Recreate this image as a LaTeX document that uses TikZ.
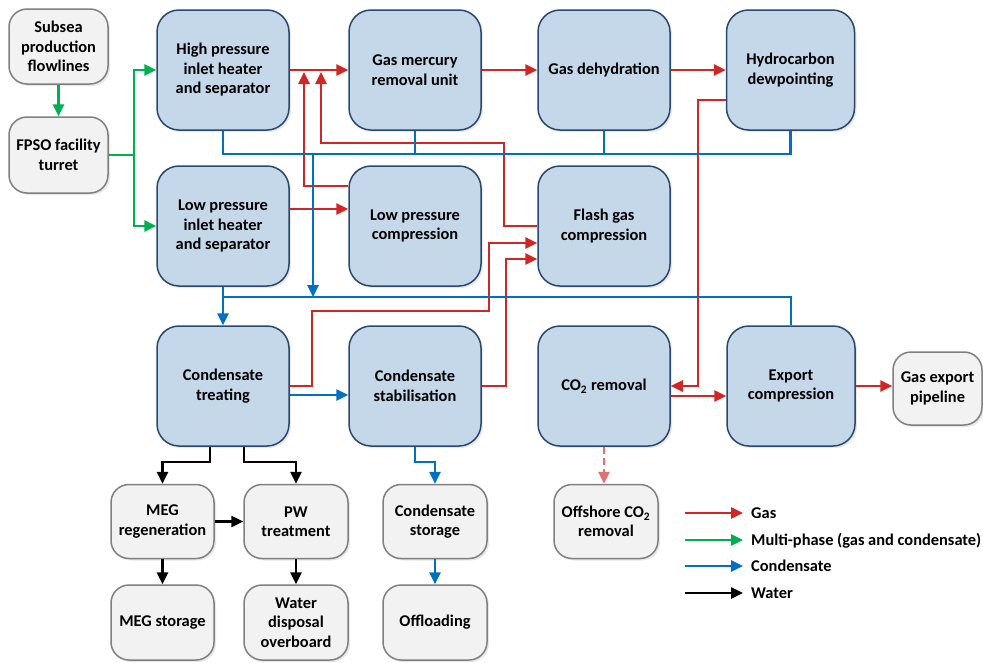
\documentclass[tikz,border=0pt]{standalone}
\usepackage{fontspec}
\setmainfont{Carlito}
\usetikzlibrary{arrows.meta}
\usetikzlibrary{shadows}

\definecolor{gasred}{RGB}{208,38,38}
\definecolor{mpgreen}{RGB}{0,176,80}
\definecolor{condblue}{RGB}{0,112,192}
\definecolor{unitfill}{RGB}{197,216,233}
\definecolor{unitline}{RGB}{40,72,110}
\definecolor{endfill}{RGB}{242,242,242}
\definecolor{endline}{RGB}{128,128,128}

\begin{document}
\begin{tikzpicture}[x=1pt,y=-1pt,
  boxfont/.style={font=\bfseries\fontsize{16.4}{19.5}\selectfont},
  unit/.style={boxfont,draw=unitline,line width=1.5pt,fill=unitfill,rounded corners=22pt,
    minimum width=132pt,minimum height=120pt,inner sep=0pt,align=center,
    drop shadow={opacity=0.18,shadow xshift=2pt,shadow yshift=-2pt}},
  endpt/.style={boxfont,draw=endline,line width=1.5pt,fill=endfill,rounded corners=18pt,
    minimum width=103pt,minimum height=74pt,inner sep=0pt,align=center,
    drop shadow={opacity=0.18,shadow xshift=2pt,shadow yshift=-2pt}},
  legtext/.style={boxfont,anchor=west,inner sep=0pt,text height=10pt,text depth=0pt},
  tip/.style={-{Triangle[length=12pt,width=11pt]}},
  gas/.style={draw=gasred,line width=2.5pt},
  multi/.style={draw=mpgreen,line width=2.5pt},
  cond/.style={draw=condblue,line width=2.5pt},
  water/.style={draw=black,line width=2.5pt},
  gasflow/.style={gas,tip},
  multiflow/.style={multi,tip},
  condflow/.style={cond,tip},
  waterflow/.style={water,tip}]
\useasboundingbox (0,0) rectangle (983,662);

% inlet
\node[endpt,minimum width=99pt,minimum height=75pt] (subsea) at (58.5,46.5) {Subsea\\production\\flowlines};
\node[endpt,minimum width=99pt,minimum height=76pt] (fpso) at (58.5,155) {FPSO facility\\turret};

% process units
\node[unit] (hp) at (223,70) {High pressure\\inlet heater\\and separator};
\node[unit] (gmr) at (415,70) {Gas mercury\\removal unit};
\node[unit] (dehy) at (604,70) {Gas dehydration};
\node[unit,minimum width=128pt] (hcdp) at (790.5,70) {Hydrocarbon\\dewpointing};
\node[unit] (lpi) at (223,226) {Low pressure\\inlet heater\\and separator};
\node[unit] (lpc) at (415,226) {Low pressure\\compression};
\node[unit] (flash) at (604,226) {Flash gas\\compression};
\node[unit] (ctreat) at (223,386) {Condensate\\treating};
\node[unit] (cstab) at (415,386) {Condensate\\stabilisation};
\node[unit] (co2) at (604,386) {CO\textsubscript{2} removal};
\node[unit,minimum width=128pt] (expc) at (791,386) {Export\\compression};

% end points
\node[endpt,minimum width=89pt,minimum height=73pt] (pipe) at (937.5,388.5) {Gas export\\pipeline};
\node[endpt] (megr) at (162.5,521.5) {MEG\\regeneration};
\node[endpt,minimum width=104pt] (pw) at (296,521.5) {PW\\treatment};
\node[endpt,minimum height=75pt] (megs) at (162.5,622.5) {MEG storage};
\node[endpt,minimum width=104pt,minimum height=75pt] (wd) at (296,622.5) {Water\\disposal\\overboard};
\node[endpt,minimum width=104pt] (cstor) at (435,521.5) {Condensate\\storage};
\node[endpt,minimum width=104pt,minimum height=75pt] (offl) at (435,622.5) {Offloading};
\node[endpt,minimum width=104pt] (offco2) at (606,521.5) {Offshore CO\textsubscript{2}\\removal};

% multi-phase
\draw[multiflow] (subsea.south) -- (fpso.north);
\draw[multi] (fpso.east) -- ++(25,0) coordinate (split);
\draw[multiflow] (split) |- (hp.west);
\draw[multiflow] (split) |- (lpi.west);

% gas
\coordinate (hpjoin1) at (304,72);
\coordinate (hpjoin2) at (321,72);
\draw[gasflow] (hp.east) -- (gmr.west);
\draw[gasflow] ([yshift=40pt]lpc.west) -| (hpjoin1);
\draw[gasflow] (flash.west) -| (504,143) -| (hpjoin2);
\draw[gasflow] (gmr.east) -- (dehy.west);
\draw[gasflow] (dehy.east) -- (hcdp.west);
\draw[gasflow] ([yshift=-30pt]hcdp.west) -| ([xshift=27pt]co2.east) -- (co2.east);
\draw[gasflow] ([yshift=-10pt]co2.east) -- ([yshift=-10pt]expc.west);
\draw[gasflow] (expc.east) -- (expc.east -| pipe.west);
\draw[gasflow] ([yshift=17pt]lpi.east) -- ([yshift=17pt]lpc.west);
\draw[gasflow] (ctreat.east) -| (312,311) -| (489,243) -- ([yshift=-17pt]flash.west);
\draw[gasflow] (cstab.east) -| (506,259) -- ([yshift=-33pt]flash.west);
\draw[gasflow,draw=gasred!65,dash pattern=on 7pt off 4pt] (co2.south) -- (co2.south |- offco2.north);

% condensate
\coordinate (topbus) at (0,154);
\coordinate (lowbus) at (0,297);
\coordinate (topdrop) at (313,154);
\draw[cond] (hp.south) |- (hcdp.south |- topbus) -- (hcdp.south);
\draw[cond] (gmr.south) -- (gmr.south |- topbus);
\draw[cond] (dehy.south) -- (dehy.south |- topbus);
\draw[condflow] (topdrop) -- (topdrop |- lowbus);
\draw[cond] (expc.north) |- (lpi.south |- lowbus);
\draw[condflow] (lpi.south) -- (ctreat.north);
\draw[condflow] ([yshift=-9pt]ctreat.east) -- ([yshift=-9pt]cstab.west);
\draw[condflow] (cstab.south) -- ++(0,15) -| (cstor.north);
\draw[condflow] (cstor.south) -- (offl.north);

% water
\draw[waterflow] ([xshift=-13pt]ctreat.south) -- ++(0,15) -| (megr.north);
\draw[waterflow] ([xshift=21pt]ctreat.south) -- ++(0,15) -| (pw.north);
\draw[waterflow] (megr.east) -- (pw.west);
\draw[waterflow] (megr.south) -- (megs.north);
\draw[waterflow] (pw.south) -- (wd.north);

% legend
\node[legtext] (lgas) at (751,513) {Gas};
\node[legtext] (lmulti) at (751,540) {Multi-phase (gas and condensate)};
\node[legtext] (lcond) at (751,566) {Condensate};
\node[legtext] (lwater) at (751,593) {Water};
\draw[gasflow] ([xshift=-66pt]lgas.west) -- ([xshift=-8pt]lgas.west);
\draw[multiflow] ([xshift=-66pt]lmulti.west) -- ([xshift=-8pt]lmulti.west);
\draw[condflow] ([xshift=-66pt]lcond.west) -- ([xshift=-8pt]lcond.west);
\draw[waterflow] ([xshift=-66pt]lwater.west) -- ([xshift=-8pt]lwater.west);
\end{tikzpicture}
\end{document}
